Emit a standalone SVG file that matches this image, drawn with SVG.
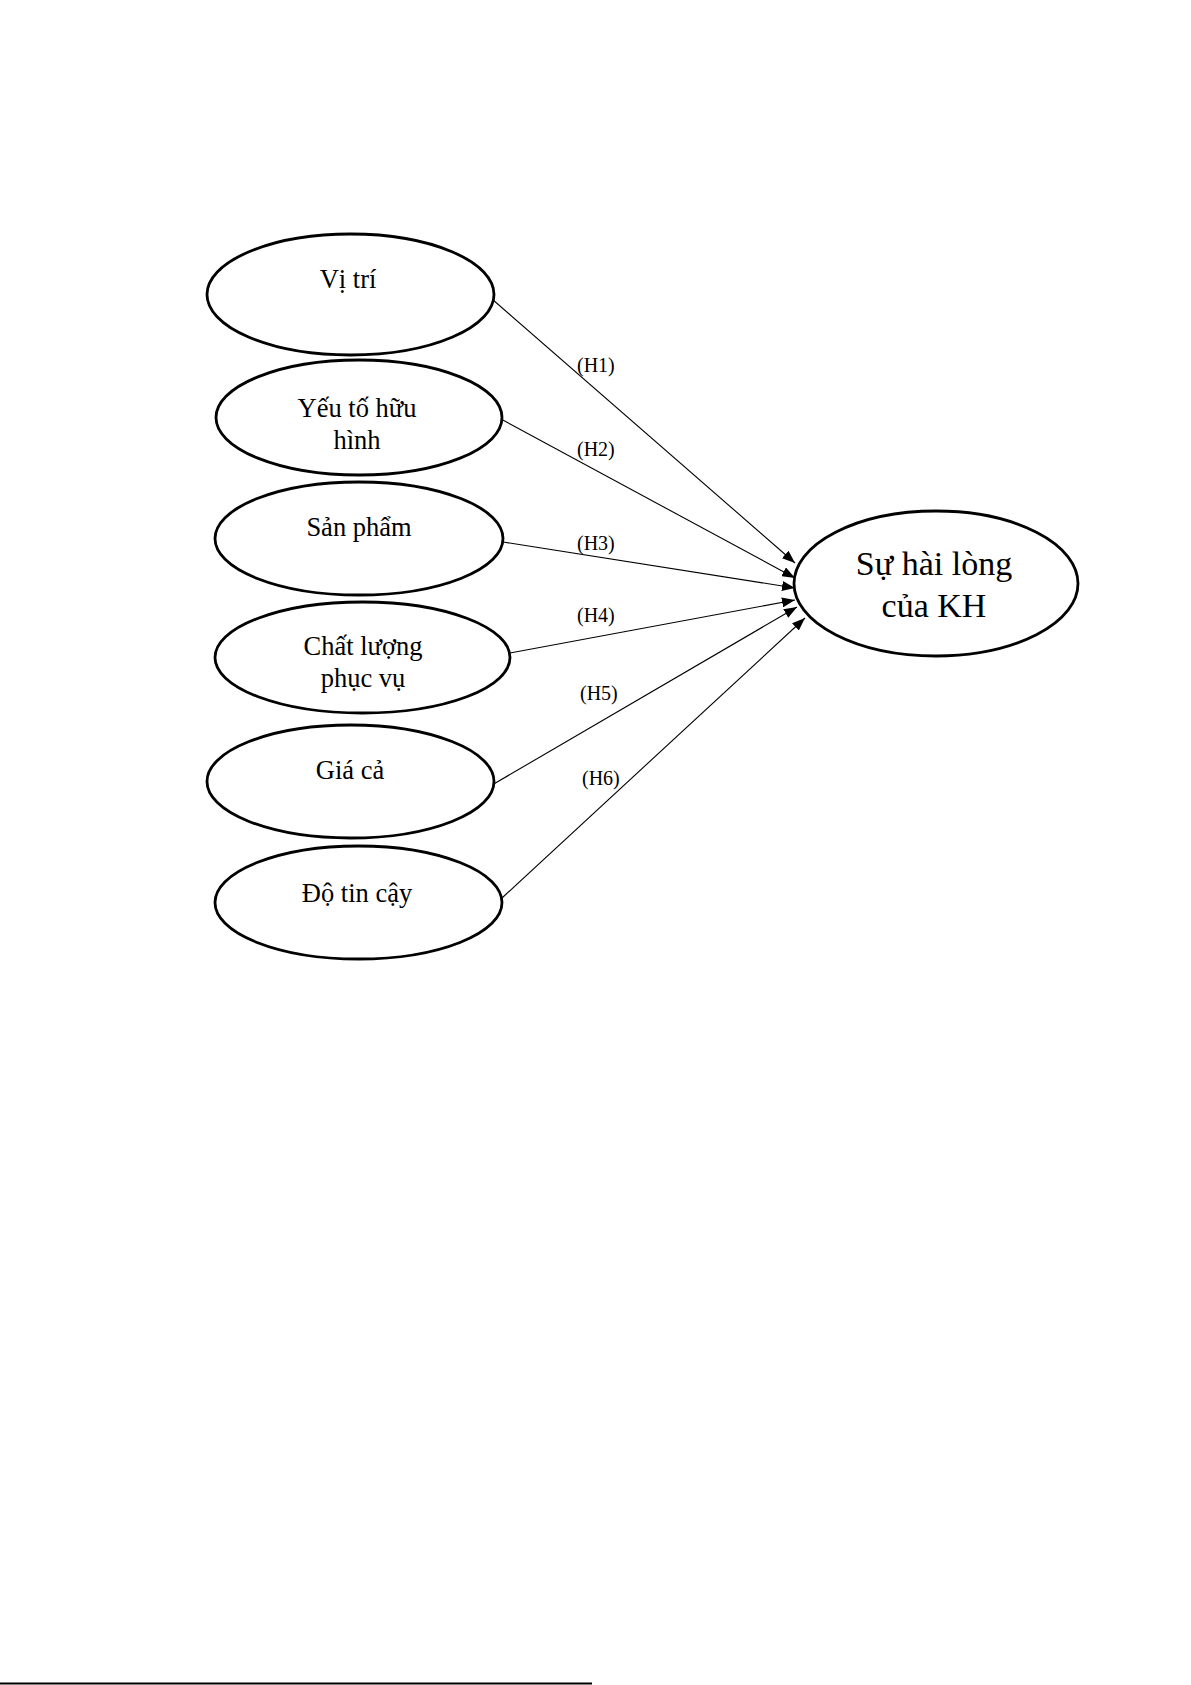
<svg xmlns="http://www.w3.org/2000/svg" width="1191" height="1685" viewBox="0 0 1191 1685">
<style>
.node ellipse{fill:#fff;stroke:#000;stroke-width:2.8}
.lbl{font-family:"Liberation Serif","Times New Roman",serif;font-size:26.5px;fill:#000;text-anchor:middle}
.big{font-size:34px}
.conn line{stroke:#000;stroke-width:1.1}
.h{font-family:"Liberation Serif","Times New Roman",serif;font-size:20px;fill:#000}
</style>
<defs>
<marker id="arr" markerUnits="userSpaceOnUse" markerWidth="14" markerHeight="10" refX="13" refY="5" orient="auto">
<path d="M0,0 L13,5 L0,10 z" fill="#000"/>
</marker>
</defs>
<rect width="1191" height="1685" fill="#fff"/>
<g class="conn">
<line x1="492" y1="299" x2="795" y2="563" marker-end="url(#arr)"/>
<line x1="501" y1="419" x2="795" y2="578" marker-end="url(#arr)"/>
<line x1="503" y1="542" x2="795" y2="588" marker-end="url(#arr)"/>
<line x1="510" y1="653" x2="795" y2="600" marker-end="url(#arr)"/>
<line x1="492" y1="785" x2="797" y2="607" marker-end="url(#arr)"/>
<line x1="502" y1="898" x2="805" y2="618" marker-end="url(#arr)"/>
</g>
<g id="labels">
<text class="h" x="577" y="372">(H1)</text>
<text class="h" x="577" y="456">(H2)</text>
<text class="h" x="577" y="550">(H3)</text>
<text class="h" x="577" y="622">(H4)</text>
<text class="h" x="580" y="700">(H5)</text>
<text class="h" x="582" y="785">(H6)</text>
</g>
<g id="n1" class="node"><ellipse cx="350.5" cy="294.5" rx="143.5" ry="60.5"/><text class="lbl" x="348" y="288">Vị trí</text></g>
<g id="n2" class="node"><ellipse cx="359" cy="417.5" rx="143" ry="57.5"/><text class="lbl" x="357" y="417">Yếu tố hữu</text><text class="lbl" x="357" y="449">hình</text></g>
<g id="n3" class="node"><ellipse cx="359" cy="538.5" rx="144" ry="56.5"/><text class="lbl" x="359" y="536">Sản phẩm</text></g>
<g id="n4" class="node"><ellipse cx="362.5" cy="657.5" rx="147.5" ry="55.5"/><text class="lbl" x="363" y="655">Chất lượng</text><text class="lbl" x="363" y="687">phục vụ</text></g>
<g id="n5" class="node"><ellipse cx="350.5" cy="781.5" rx="143.5" ry="56.5"/><text class="lbl" x="350" y="779">Giá cả</text></g>
<g id="n6" class="node"><ellipse cx="358.5" cy="902.5" rx="143.5" ry="56.5"/><text class="lbl" x="357" y="902">Độ tin cậy</text></g>
<g id="n7" class="node"><ellipse cx="936" cy="583.5" rx="142" ry="72.5"/><text class="lbl big" x="934" y="575">Sự hài lòng</text><text class="lbl big" x="934" y="617">của KH</text></g>
<line x1="0" y1="1683.5" x2="592" y2="1683.5" stroke="#000" stroke-width="2"/>
</svg>
